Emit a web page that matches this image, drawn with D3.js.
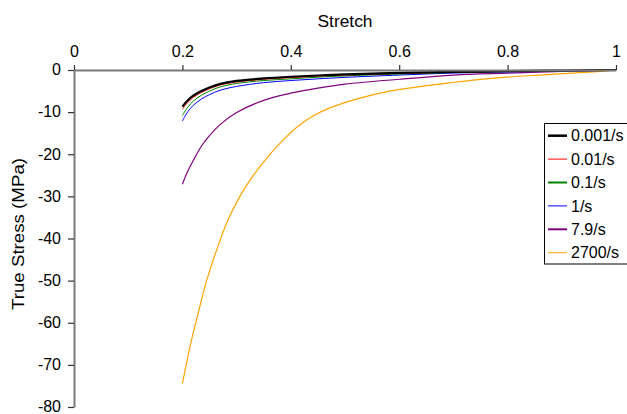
<!DOCTYPE html>
<html><head><meta charset="utf-8">
<script src="https://cdn.jsdelivr.net/npm/d3@7"></script>
<style>body{margin:0;background:#fff}svg{display:block}text{font-family:"Liberation Sans",Arial,sans-serif;fill:#000}</style>
</head><body>
<script>
const xTicks = [0, 0.2, 0.4, 0.6, 0.8, 1];
const yTicks = [0, -10, -20, -30, -40, -50, -60, -70, -80];
const seriesNames = ["0.001/s", "0.01/s", "0.1/s", "1/s", "7.9/s", "2700/s"];
const seriesColors = ["#000000", "#ff0000", "#008000", "#0000ff", "#800080", "#ffa500"];
const stretchGrid = [0.2, 0.21, 0.22, 0.235, 0.25, 0.27, 0.3, 0.35, 0.4, 0.45, 0.5, 0.6, 0.7, 0.8, 0.9, 1.0];
const stress0001 = [-8.7, -7.2, -6.1, -5.0, -4.15, -3.3, -2.6, -2.0, -1.6, -1.3, -1.05, -0.7, -0.45, -0.28, -0.12, 0];
const stress001  = [-9.3, -7.7, -6.5, -5.35, -4.45, -3.55, -2.85, -2.2, -1.8, -1.45, -1.2, -0.8, -0.5, -0.3, -0.14, 0];
const stress01   = [-10.8, -8.8, -7.4, -6.0, -5.0, -4.0, -3.2, -2.5, -2.1, -1.7, -1.4, -0.95, -0.6, -0.36, -0.17, 0];
const stress1    = [-12.1, -9.9, -8.4, -6.9, -5.85, -4.8, -3.9, -3.0, -2.5, -2.1, -1.75, -1.2, -0.72, -0.45, -0.22, 0];
const stress79   = [-27.1, -24.0, -21.5, -18.1, -15.6, -12.9, -10.1, -7.2, -5.5, -4.3, -3.35, -2.2, -1.2, -0.75, -0.35, 0];
const orangeStretch = [0.2, 0.214, 0.229, 0.245, 0.263, 0.284, 0.306, 0.326, 0.361, 0.386, 0.41, 0.441, 0.472, 0.521, 0.582, 0.644, 0.693, 0.736, 0.798, 0.859, 0.92, 0.982, 1.0];
const stress2700 = [-74.4, -65.7, -57.8, -49.9, -42.8, -35.6, -30.0, -25.9, -20.1, -16.6, -13.7, -10.9, -9.0, -6.9, -5.0, -3.85, -3.05, -2.4, -1.7, -1.2, -0.75, -0.22, 0];

const W = 627, H = 414;
const svg = d3.select("body").append("svg").attr("width", W).attr("height", H);
const x = d3.scaleLinear().domain([0, 1]).range([74, 616]);
const y = d3.scaleLinear().domain([0, -80]).range([70, 407]);

const series = [
  {xs: stretchGrid, ys: stress0001, w: 2.2},
  {xs: stretchGrid, ys: stress001, w: 1},
  {xs: stretchGrid, ys: stress01, w: 1},
  {xs: stretchGrid, ys: stress1, w: 1},
  {xs: stretchGrid, ys: stress79, w: 1.2},
  {xs: orangeStretch, ys: stress2700, w: 1.2}
];
const legendW = [2.5, 1, 2, 1, 2, 1];

const line = d3.line().x(d => x(d[0])).y(d => y(d[1])).curve(d3.curveCatmullRom.alpha(0.5));
for (let i = series.length - 1; i >= 0; i--) {
  const s = series[i];
  svg.append("path").attr("d", line(s.xs.map((v, k) => [v, s.ys[k]])))
    .attr("fill", "none").attr("stroke", seriesColors[i]).attr("stroke-width", s.w);
}

// axes
const fmt = d => String(d);
const xAxis = svg.append("g").attr("transform", "translate(0,70)")
  .call(d3.axisTop(x).tickValues(xTicks).tickFormat(fmt).tickSizeOuter(0).tickSizeInner(5).tickPadding(8));
const yAxis = svg.append("g").attr("transform", "translate(74,0)")
  .call(d3.axisLeft(y).tickValues(yTicks).tickFormat(fmt).tickSizeOuter(0).tickSizeInner(6).tickPadding(7));
[xAxis, yAxis].forEach(a => {
  a.attr("font-family", "Liberation Sans, Arial, sans-serif").attr("font-size", 16);
  a.select(".domain").attr("stroke", "#7a7a7a").attr("stroke-width", 2);
  a.selectAll(".tick line").attr("stroke", "#333").attr("stroke-width", 1.2);
  a.selectAll(".tick text").attr("fill", "#000");
});
yAxis.selectAll(".tick text").attr("dy", "0.3em");

svg.append("text").attr("x", 345).attr("y", 26.5).attr("text-anchor", "middle").attr("font-size", 16)
  .attr("textLength", 55).attr("lengthAdjust", "spacingAndGlyphs").text("Stretch");
svg.append("text").attr("transform", "translate(23.5,234) rotate(-90)").attr("text-anchor", "middle").attr("font-size", 16)
  .attr("textLength", 152).attr("lengthAdjust", "spacingAndGlyphs").text("True Stress (MPa)");

// legend
const lg = svg.append("g");
lg.append("rect").attr("x", 544.5).attr("y", 123.5).attr("width", 100).attr("height", 140.5)
  .attr("fill", "#fff").attr("stroke", "#000").attr("stroke-width", 1);
seriesNames.forEach((n, i) => {
  const yy = 135.7 + i * 23.4;
  lg.append("line").attr("x1", 548).attr("x2", 567).attr("y1", yy).attr("y2", yy)
    .attr("stroke", seriesColors[i]).attr("stroke-width", legendW[i]);
  lg.append("text").attr("x", 571).attr("y", yy).attr("dy", "0.36em").attr("font-size", 16).text(n);
});
</script>
</body></html>
